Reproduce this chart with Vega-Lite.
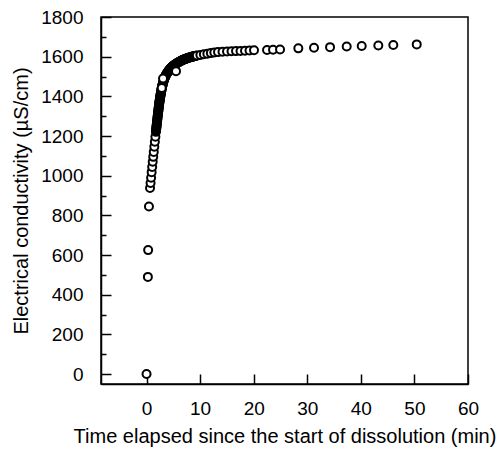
{
  "$schema": "https://vega.github.io/schema/vega-lite/v6.json",
  "width": 367,
  "height": 367,
  "autosize": "none",
  "padding": {"left": 101, "top": 17, "right": 31, "bottom": 68},
  "background": "white",
  "config": {
    "view": {"stroke": "black", "strokeWidth": 1.5},
    "font": "Liberation Sans",
    "axis": {
      "grid": false,
      "domainColor": "black",
      "domainWidth": 1.5,
      "tickColor": "black",
      "tickWidth": 1.5,
      "labelColor": "black",
      "titleColor": "black",
      "labelFont": "Liberation Sans",
      "titleFont": "Liberation Sans",
      "titleFontWeight": "normal",
      "labelFlush": false,
      "labelOverlap": false
    }
  },
  "data": {
    "values": [
      {"t": 0, "ec": 0},
      {"t": 0.25, "ec": 490},
      {"t": 0.3, "ec": 625},
      {"t": 0.45, "ec": 845},
      {"t": 0.65, "ec": 938},
      {"t": 0.75, "ec": 963},
      {"t": 0.85, "ec": 990},
      {"t": 0.95, "ec": 1018},
      {"t": 1.05, "ec": 1044},
      {"t": 1.15, "ec": 1070},
      {"t": 1.25, "ec": 1095},
      {"t": 1.35, "ec": 1120},
      {"t": 1.45, "ec": 1146},
      {"t": 1.55, "ec": 1171},
      {"t": 1.65, "ec": 1196},
      {"t": 1.75, "ec": 1221},
      {"t": 1.78, "ec": 1228},
      {"t": 1.8, "ec": 1234},
      {"t": 1.83, "ec": 1240},
      {"t": 1.85, "ec": 1246},
      {"t": 1.88, "ec": 1252},
      {"t": 1.9, "ec": 1258},
      {"t": 1.93, "ec": 1264},
      {"t": 1.95, "ec": 1270},
      {"t": 1.98, "ec": 1276},
      {"t": 2.0, "ec": 1282},
      {"t": 2.03, "ec": 1288},
      {"t": 2.05, "ec": 1294},
      {"t": 2.08, "ec": 1300},
      {"t": 2.1, "ec": 1306},
      {"t": 2.13, "ec": 1311},
      {"t": 2.15, "ec": 1317},
      {"t": 2.18, "ec": 1322},
      {"t": 2.2, "ec": 1328},
      {"t": 2.23, "ec": 1333},
      {"t": 2.25, "ec": 1339},
      {"t": 2.28, "ec": 1344},
      {"t": 2.3, "ec": 1350},
      {"t": 2.33, "ec": 1355},
      {"t": 2.35, "ec": 1360},
      {"t": 2.38, "ec": 1365},
      {"t": 2.4, "ec": 1370},
      {"t": 2.43, "ec": 1375},
      {"t": 2.45, "ec": 1379},
      {"t": 2.48, "ec": 1384},
      {"t": 2.5, "ec": 1388},
      {"t": 2.53, "ec": 1393},
      {"t": 2.55, "ec": 1397},
      {"t": 2.58, "ec": 1401},
      {"t": 2.6, "ec": 1405},
      {"t": 2.63, "ec": 1409},
      {"t": 2.65, "ec": 1413},
      {"t": 2.68, "ec": 1417},
      {"t": 2.7, "ec": 1421},
      {"t": 2.73, "ec": 1425},
      {"t": 2.75, "ec": 1428},
      {"t": 2.78, "ec": 1432},
      {"t": 2.8, "ec": 1435},
      {"t": 2.83, "ec": 1439},
      {"t": 2.85, "ec": 1442},
      {"t": 2.88, "ec": 1445},
      {"t": 2.9, "ec": 1448},
      {"t": 2.93, "ec": 1451},
      {"t": 2.95, "ec": 1454},
      {"t": 2.98, "ec": 1457},
      {"t": 3.0, "ec": 1460},
      {"t": 3.05, "ec": 1465},
      {"t": 3.1, "ec": 1470},
      {"t": 3.15, "ec": 1475},
      {"t": 3.2, "ec": 1479},
      {"t": 3.25, "ec": 1483},
      {"t": 3.3, "ec": 1487},
      {"t": 3.35, "ec": 1491},
      {"t": 3.4, "ec": 1494},
      {"t": 3.45, "ec": 1497},
      {"t": 3.5, "ec": 1500},
      {"t": 3.55, "ec": 1503},
      {"t": 3.6, "ec": 1506},
      {"t": 3.65, "ec": 1509},
      {"t": 3.7, "ec": 1511},
      {"t": 3.75, "ec": 1514},
      {"t": 3.8, "ec": 1516},
      {"t": 3.85, "ec": 1518},
      {"t": 3.9, "ec": 1520},
      {"t": 3.95, "ec": 1522},
      {"t": 4.0, "ec": 1524},
      {"t": 4.08, "ec": 1527},
      {"t": 4.15, "ec": 1530},
      {"t": 4.22, "ec": 1533},
      {"t": 4.3, "ec": 1535},
      {"t": 4.38, "ec": 1538},
      {"t": 4.45, "ec": 1540},
      {"t": 4.52, "ec": 1542},
      {"t": 4.6, "ec": 1544},
      {"t": 4.68, "ec": 1546},
      {"t": 4.75, "ec": 1548},
      {"t": 4.82, "ec": 1550},
      {"t": 4.9, "ec": 1552},
      {"t": 4.98, "ec": 1554},
      {"t": 5.05, "ec": 1555},
      {"t": 5.12, "ec": 1557},
      {"t": 5.2, "ec": 1558},
      {"t": 5.3, "ec": 1560},
      {"t": 5.4, "ec": 1562},
      {"t": 5.5, "ec": 1564},
      {"t": 5.6, "ec": 1566},
      {"t": 5.7, "ec": 1568},
      {"t": 5.8, "ec": 1569},
      {"t": 5.9, "ec": 1571},
      {"t": 6.0, "ec": 1572},
      {"t": 6.1, "ec": 1574},
      {"t": 6.2, "ec": 1575},
      {"t": 6.3, "ec": 1577},
      {"t": 6.4, "ec": 1578},
      {"t": 6.5, "ec": 1580},
      {"t": 6.6, "ec": 1581},
      {"t": 6.7, "ec": 1583},
      {"t": 6.8, "ec": 1584},
      {"t": 6.9, "ec": 1585},
      {"t": 7.0, "ec": 1586},
      {"t": 7.1, "ec": 1587},
      {"t": 7.2, "ec": 1588},
      {"t": 7.3, "ec": 1589},
      {"t": 7.4, "ec": 1590},
      {"t": 7.5, "ec": 1591},
      {"t": 7.6, "ec": 1592},
      {"t": 7.7, "ec": 1593},
      {"t": 7.8, "ec": 1594},
      {"t": 7.9, "ec": 1595},
      {"t": 8.0, "ec": 1596},
      {"t": 8.1, "ec": 1596},
      {"t": 8.2, "ec": 1597},
      {"t": 8.3, "ec": 1598},
      {"t": 8.4, "ec": 1599},
      {"t": 8.5, "ec": 1599},
      {"t": 8.6, "ec": 1600},
      {"t": 8.7, "ec": 1601},
      {"t": 8.8, "ec": 1602},
      {"t": 8.9, "ec": 1602},
      {"t": 9.0, "ec": 1603},
      {"t": 9.1, "ec": 1603},
      {"t": 9.2, "ec": 1604},
      {"t": 9.3, "ec": 1605},
      {"t": 9.4, "ec": 1606},
      {"t": 10.05, "ec": 1609},
      {"t": 10.7, "ec": 1612},
      {"t": 11.35, "ec": 1615},
      {"t": 12.0, "ec": 1618},
      {"t": 12.65, "ec": 1621},
      {"t": 13.34, "ec": 1623},
      {"t": 14.18, "ec": 1625},
      {"t": 15.02, "ec": 1626},
      {"t": 15.86, "ec": 1627},
      {"t": 16.7, "ec": 1628},
      {"t": 17.54, "ec": 1629},
      {"t": 18.38, "ec": 1630},
      {"t": 19.22, "ec": 1631},
      {"t": 20.06, "ec": 1632},
      {"t": 22.49, "ec": 1634},
      {"t": 23.61, "ec": 1635},
      {"t": 24.92, "ec": 1636},
      {"t": 28.33, "ec": 1642},
      {"t": 31.26, "ec": 1645},
      {"t": 34.25, "ec": 1648},
      {"t": 37.36, "ec": 1651},
      {"t": 40.16, "ec": 1654},
      {"t": 43.26, "ec": 1656},
      {"t": 46.06, "ec": 1659},
      {"t": 50.43, "ec": 1662},
      {"t": 2.84, "ec": 1442},
      {"t": 3.08, "ec": 1490},
      {"t": 5.5, "ec": 1527}
    ]
  },
  "resolve": {"axis": {"y": "independent"}},
  "layer": [
    {
      "mark": {"type": "point", "opacity": 0},
      "encoding": {
        "x": {
          "field": "t", "type": "quantitative",
          "scale": {"domain": [-8.5, 60], "nice": false, "zero": false},
          "axis": {"values": [0, 10, 20, 30, 40, 50, 60], "tickSize": -10, "labelPadding": 25, "labelFontSize": 19, "titleFontSize": 20, "titlePadding": 8, "title": "Time elapsed since the start of dissolution (min)"}
        },
        "y": {
          "field": "ec", "type": "quantitative",
          "scale": {"domain": [-50, 1800], "nice": false, "zero": false},
          "axis": {"orient": "left", "values": [100, 300, 500, 700, 900, 1100, 1300, 1500, 1700], "tickSize": -5, "labels": false, "domain": false, "title": null}
        }
      }
    },
    {
      "mark": {"type": "circle", "size": 64, "fill": "white", "stroke": "black", "strokeWidth": 2, "opacity": 1},
      "encoding": {
        "x": {
          "field": "t", "type": "quantitative",
          "scale": {"domain": [-8.5, 60], "nice": false, "zero": false},
          "axis": {"values": [0, 10, 20, 30, 40, 50, 60], "tickSize": -10, "labelPadding": 25, "labelFontSize": 19, "titleFontSize": 20, "titlePadding": 8, "title": "Time elapsed since the start of dissolution (min)"}
        },
        "y": {
          "field": "ec", "type": "quantitative",
          "scale": {"domain": [-50, 1800], "nice": false, "zero": false},
          "axis": {"orient": "left", "format": "d", "values": [0, 200, 400, 600, 800, 1000, 1200, 1400, 1600, 1800], "tickSize": -10, "labelPadding": 28, "labelFontSize": 19, "titleFontSize": 20, "titlePadding": 9, "title": "Electrical conductivity (µS/cm)"}
        }
      }
    }
  ]
}
